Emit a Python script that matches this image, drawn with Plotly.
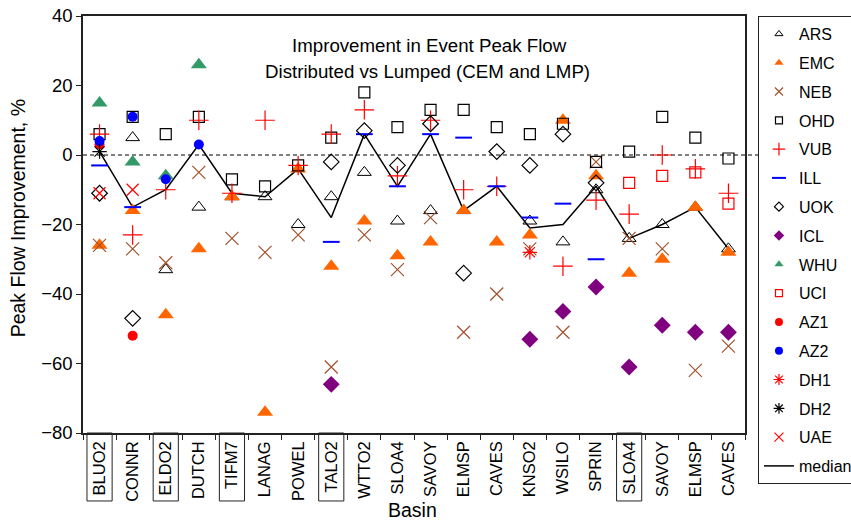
import plotly.graph_objects as go

basins = ["BLUO2", "CONNR", "ELDO2", "DUTCH", "TIFM7", "LANAG", "POWEL", "TALO2", "WTTO2", "SLOA4",
          "SAVOY", "ELMSP", "CAVES", "KNSO2", "WSILO", "SPRIN", "SLOA4", "SAVOY", "ELMSP", "CAVES"]
boxed = [0, 2, 4, 7, 16]
N = None

ARS = [N, 5, -33, -15, -12, -12, -20, -12, -5, -19, -16, -16, N, -19, -25, -10, -24, -20, -15, -27]
EMC = [-26, -16, -46, -27, -12, -74, -4, -32, -19, -29, -25, -16, -25, -23, 10, -6, -34, -30, -15, -28]
NEB = [-26, -27, -31, -5, -24, -28, -23, -61, -23, -33, -18, -51, -40, -27, -51, -2, -24, -27, -62, -55]
OHD = [6, 11, 6, 11, -7, -9, -3, 5, 18, 8, 13, 13, 8, 6, 9, -2, 1, 11, 5, -1]
VUB = [6, -23, -10, 10, -11, 10, -3, 6, 13, -6, 10, -10, -9, N, -32, -13, -17, 0, -4, -11]
ILL = [-3, -15, N, N, N, N, N, -25, 6, -9, 6, 5, -9, -18, -14, -30, N, N, N, N]
UOK = [-11, -47, N, N, N, N, N, -2, 7, -3, 9, -34, 1, -3, 6, -8, N, N, N, N]
ICL = [N, N, N, N, N, N, N, -66, N, N, N, N, N, -53, -45, -38, -61, -49, -51, -51]
WHU = [15, -2, -6, 26, N, N, N, N, N, N, N, N, N, N, N, N, N, N, N, N]
UCI = [N, N, N, N, N, N, N, N, N, N, N, N, N, N, N, N, -8, -6, -5, -14]
AZ1 = [3, -52, N, N, N, N, N, N, N, N, N, N, N, N, N, N, N, N, N, N]
AZ2 = [4, 11, -7, 3, N, N, N, N, N, N, N, N, N, N, N, N, N, N, N, N]
DH1 = [N, N, N, N, N, N, N, N, N, N, N, N, N, -28, N, N, N, N, N, N]
DH2 = [1, N, N, N, N, N, N, N, N, N, N, N, N, N, N, N, N, N, N, N]
UAE = [-11, -10, N, N, N, N, N, N, N, N, N, N, N, N, N, N, N, N, N, N]
MEDIAN = [1, -15, -10, 3, -11, -12, -4, -18, 6, -9, 6, -16, -9, -21, -20, -9, -24, -20, -15, -27]

FONT = "Liberation Sans, Arial, Helvetica, sans-serif"
x = list(range(len(basins)))

# name, data, symbol, color, size, line width, legend size
series = [
    ("ARS", ARS, "triangle-up-open", "black", 12, 1, 7),
    ("EMC", EMC, "triangle-up", "#FF6600", 14, 0, 8),
    ("NEB", NEB, "x-thin", "#A0522D", 13, 1.2, 8),
    ("OHD", OHD, "square-open", "black", 11, 1.2, 7),
    ("VUB", VUB, "cross-thin", "#FF0000", 14, 1.2, 9),
    ("ILL", ILL, "line-ew", "#0000FF", 12, 2, 10),
    ("UOK", UOK, "diamond-open", "black", 12, 1.2, 7),
    ("ICL", ICL, "diamond", "#800080", 13, 0, 8),
    ("WHU", WHU, "triangle-up", "#339966", 14, 0, 8),
    ("UCI", UCI, "square-open", "#FF0000", 11, 1.2, 7),
    ("AZ1", AZ1, "circle", "#FF0000", 10, 0, 8),
    ("AZ2", AZ2, "circle", "#0000FF", 10, 0, 8),
    ("DH1", DH1, "asterisk", "#FF0000", 12, 1.2, 9),
    ("DH2", DH2, "asterisk", "black", 12, 1.2, 9),
    ("UAE", UAE, "x-thin", "#FF0000", 12, 1.2, 9),
]

fig = go.Figure()

fig.add_trace(go.Scatter(x=x, y=MEDIAN, mode="lines", line=dict(color="black", width=1.5),
                         showlegend=False, hoverinfo="skip"))

for name, data, sym, col, size, lw, lsize in series:
    fig.add_trace(go.Scatter(
        x=x, y=data, mode="markers", name=name, showlegend=False,
        marker=dict(symbol=sym, size=size, color=col, line=dict(color=col, width=lw)),
    ))

for i, (name, data, sym, col, size, lw, lsize) in enumerate(series):
    fig.add_trace(go.Scatter(
        x=[None], y=[None], mode="markers", name=name, legendgroup=name, legendrank=i + 1,
        marker=dict(symbol=sym, size=lsize, color=col, line=dict(color=col, width=max(lw, 1) if lw else 0)),
    ))
fig.add_trace(go.Scatter(x=[None], y=[None], mode="lines", name="median", legendgroup="median",
                         legendrank=100, line=dict(color="black", width=1.5)))

shapes = [dict(type="line", xref="paper", yref="y", x0=0, x1=1.027, y0=0, y1=0,
               line=dict(color="black", width=1, dash="4px,3px"), layer="below")]
for i in boxed:
    shapes.append(dict(type="rect", xref="x", yref="paper", x0=i - 0.38, x1=i + 0.38,
                       y0=-0.163, y1=0, line=dict(color="#222", width=1)))

fig.update_layout(
    width=851, height=521,
    margin=dict(l=83, r=106, t=16, b=88, autoexpand=False),
    paper_bgcolor="white", plot_bgcolor="white",
    font=dict(family=FONT, color="black", size=16),
    shapes=shapes,
    legend=dict(x=1.0196, xanchor="left", y=1, yanchor="top", bgcolor="white",
                bordercolor="#222", borderwidth=1, font=dict(size=16, family=FONT),
                tracegroupgap=5, traceorder="grouped", maxheight=505),
    xaxis=dict(range=[-0.5, 19.5], tickmode="array", tickvals=x, ticktext=basins,
               tickangle=-90, tickfont=dict(size=16.5), ticks="", showgrid=False, zeroline=False,
               showline=True, mirror=True, linecolor="#222", linewidth=1.5,
               minor=dict(tickmode="array", tickvals=[i - 0.5 for i in range(len(basins) + 1)],
                          ticks="outside", ticklen=5, tickcolor="#222")),
    yaxis=dict(range=[-80, 40], tickmode="linear", tick0=-80, dtick=20, ticks="outside", ticklen=5,
               tickcolor="#222", tickfont=dict(size=18.5), showgrid=False, zeroline=False,
               showline=True, mirror=True, linecolor="#222", linewidth=1.5),
    annotations=[
        dict(text="Improvement in Event Peak Flow", xref="paper", yref="paper", x=0.524, y=0.93,
             showarrow=False, font=dict(size=18.7), xanchor="center", yanchor="middle"),
        dict(text="Distributed vs Lumped (CEM and LMP)", xref="paper", yref="paper", x=0.521, y=0.868,
             showarrow=False, font=dict(size=18.7), xanchor="center", yanchor="middle"),
        dict(text="Peak Flow Improvement, %", xref="paper", yref="paper", x=-0.098, y=0.515,
             textangle=-90, showarrow=False, font=dict(size=19.5), xanchor="center", yanchor="middle"),
        dict(text="Basin", xref="paper", yref="paper", x=0.497, y=-0.185,
             showarrow=False, font=dict(size=19.5), xanchor="center", yanchor="middle"),
    ],
)

fig.write_html("out.html")
